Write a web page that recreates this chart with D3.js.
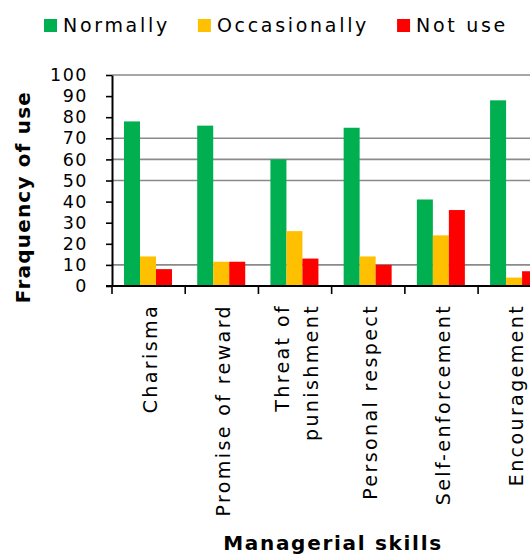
<!DOCTYPE html>
<html>
<head>
<meta charset="utf-8">
<script src="https://cdn.jsdelivr.net/npm/d3@7"></script>
<style>
  body { margin: 0; background: #fff; }
  svg { display: block; font-family: "DejaVu Sans", sans-serif; }
</style>
</head>
<body>
<div id="chart"></div>
<script>
const categories = ['Charisma', 'Promise of reward', 'Threat of\npunishment', 'Personal respect', 'Self-enforcement', 'Encouragement'];
const seriesNames = ['Normally', 'Occasionally', 'Not use'];
const normally = [78, 76, 60, 75, 41, 88];
const occasionally = [14, 11.5, 26, 14, 24, 4];
const notUse = [8, 11.5, 13, 10, 36, 7];
const yTicks = [0, 10, 20, 30, 40, 50, 60, 70, 80, 90, 100];
const gridValues = [10, 50, 60, 70, 100];
const colors = ['#00b050', '#ffc000', '#ff0000'];

const width = 530, height = 555;
const series = [normally, occasionally, notUse];

const svg = d3.select('#chart').append('svg')
  .attr('width', width)
  .attr('height', height);

const x0 = d3.scaleBand().domain(categories).range([112, 551.3]);
const x1 = d3.scaleBand().domain(seriesNames).range([12, 60]);
const y = d3.scaleLinear().domain([0, 100]).range([286, 75]);
const color = d3.scaleOrdinal(seriesNames, colors);

// gridlines (only some survive in the reference)
svg.append('g')
  .selectAll('line')
  .data(gridValues)
  .join('line')
    .attr('x1', x0.range()[0])
    .attr('x2', width)
    .attr('y1', d => y(d))
    .attr('y2', d => y(d))
    .attr('stroke', '#8a8a8a')
    .attr('stroke-width', 1.6);

// bars
const rows = categories.map((c, i) => ({cat: c, vals: seriesNames.map((s, j) => ({s, v: series[j][i]}))}));

svg.append('g')
  .selectAll('g')
  .data(rows)
  .join('g')
    .attr('transform', d => `translate(${x0(d.cat)},0)`)
  .selectAll('rect')
  .data(d => d.vals)
  .join('rect')
    .attr('x', d => x1(d.s))
    .attr('width', x1.bandwidth())
    .attr('y', d => y(d.v))
    .attr('height', d => y(0) - y(d.v))
    .attr('fill', d => color(d.s));

// y axis
const yAxis = svg.append('g')
  .attr('transform', `translate(${x0.range()[0]},0)`)
  .call(d3.axisLeft(y).tickValues(yTicks).tickSize(6).tickPadding(18).tickSizeOuter(0));
yAxis.select('.domain').attr('stroke', '#000').attr('stroke-width', 2);
yAxis.selectAll('.tick line').attr('stroke', '#000').attr('stroke-width', 1.6);
yAxis.selectAll('.tick text')
  .attr('font-size', 17.5)
  .attr('font-family', '"DejaVu Sans", sans-serif')
  .attr('letter-spacing', 1.5)
  .attr('fill', '#000');

// x axis: line + ticks at category boundaries
const xAxis = svg.append('g');
xAxis.append('line')
  .attr('x1', x0.range()[0] - 6)
  .attr('x2', x0.range()[1])
  .attr('y1', y(0))
  .attr('y2', y(0))
  .attr('stroke', '#000')
  .attr('stroke-width', 2);
xAxis.selectAll('.xtick')
  .data(categories)
  .join('line')
    .attr('class', 'xtick')
    .attr('x1', d => x0(d))
    .attr('x2', d => x0(d))
    .attr('y1', y(0))
    .attr('y2', y(0) + 8)
    .attr('stroke', '#000')
    .attr('stroke-width', 1.6);

const catLabels = xAxis.selectAll('.xlab')
  .data(categories)
  .join('text')
    .attr('class', 'xlab')
    .attr('transform', d => `translate(${x0(d) + x0.bandwidth() / 2 + 2},304) rotate(-90)`)
    .attr('text-anchor', 'end')
    .attr('font-size', 19)
    .attr('letter-spacing', 2.4)
    .attr('fill', '#000');

catLabels.each(function(d) {
  const lines = d.split('\n');
  const t = d3.select(this);
  lines.forEach((ln, k) => {
    t.append('tspan')
      .attr('x', 0)
      .attr('dy', k === 0 ? `${0.35 - (lines.length - 1) * 0.75}em` : '1.5em')
      .text(ln);
  });
});

// axis titles
svg.append('text')
  .attr('transform', 'translate(30,197) rotate(-90)')
  .attr('text-anchor', 'middle')
  .attr('font-size', 20)
  .attr('font-weight', 'bold')
  .attr('letter-spacing', 1.2)
  .text('Fraquency of use');

svg.append('text')
  .attr('x', 333)
  .attr('y', 550)
  .attr('text-anchor', 'middle')
  .attr('font-size', 20)
  .attr('font-weight', 'bold')
  .attr('letter-spacing', 1.7)
  .text('Managerial skills');

// legend
const legend = svg.append('g').attr('transform', 'translate(44,19)');
let lx = 0;
seriesNames.forEach((s) => {
  const item = legend.append('g').attr('transform', `translate(${lx},0)`);
  item.append('rect')
    .attr('width', 13)
    .attr('height', 13)
    .attr('fill', color(s));
  const txt = item.append('text')
    .attr('x', 19)
    .attr('y', 13)
    .attr('font-size', 19)
    .attr('letter-spacing', 2.7)
    .attr('fill', '#000')
    .text(s);
  lx += 19 + txt.node().getComputedTextLength() + 28;
});
</script>
</body>
</html>
